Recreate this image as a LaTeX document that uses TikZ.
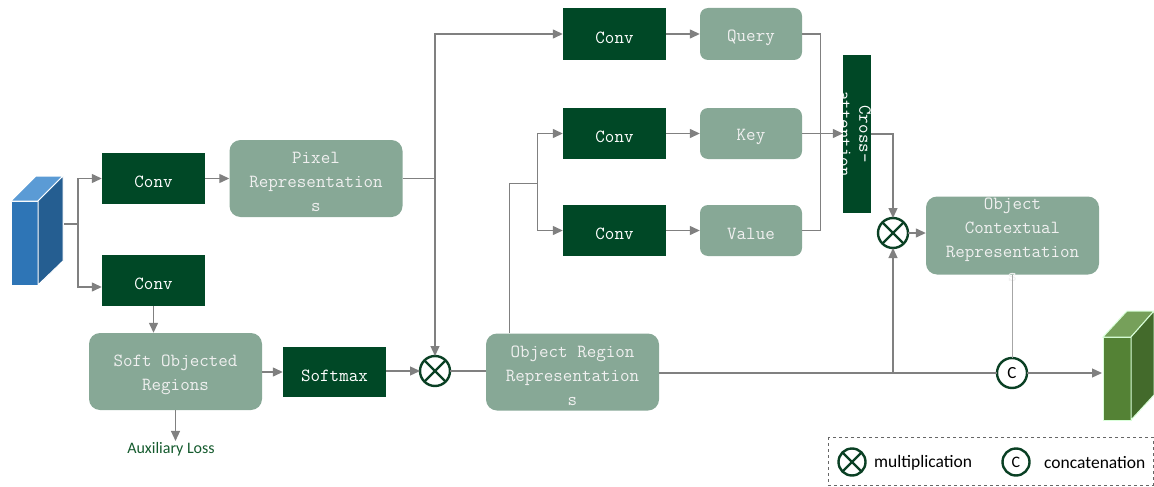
\documentclass[tikz,border=0pt]{standalone}
\usepackage{fontspec}
\setmainfont{Liberation Serif}
\newfontfamily\calfont{Carlito}
\newcommand\codefont{\ttfamily}
\newcommand\mystrut{\rule{0pt}{19pt}}
\usetikzlibrary{arrows.meta,calc}
\definecolor{dkgreen}{RGB}{0,72,38}
\definecolor{ltgreen}{RGB}{135,168,150}
\definecolor{arrgray}{RGB}{128,128,128}
\definecolor{opgreen}{RGB}{10,64,36}
\definecolor{auxgreen}{RGB}{20,90,45}
\definecolor{bluefront}{RGB}{46,117,182}
\definecolor{blueside}{RGB}{37,94,145}
\definecolor{bluetop}{RGB}{91,155,213}
\definecolor{grfront}{RGB}{84,130,53}
\definecolor{grside}{RGB}{67,106,43}
\definecolor{grtop}{RGB}{118,160,90}
\begin{document}
\begin{tikzpicture}[x=1pt,y=-1pt,
  dk/.style={fill=dkgreen, text=white, minimum width=103pt, minimum height=51pt, inner sep=0pt,
    font=\codefont\fontsize{18.5}{24}\selectfont, execute at begin node={\mystrut}},
  lt/.style={fill=ltgreen, rounded corners=11pt, text=white!94!black, minimum width=173pt, minimum height=77pt,
    inner sep=0pt, align=center, font=\codefont\fontsize{18.5}{24}\selectfont},
  sm/.style={fill=ltgreen, rounded corners=8pt, text=white!94!black, minimum width=102pt, minimum height=51pt,
    inner sep=0pt, font=\codefont\fontsize{18.5}{24}\selectfont, execute at begin node={\mystrut}},
  ln/.style={draw=arrgray, line width=1.3pt},
  arr/.style={ln, -{Triangle[length=10pt,width=9pt]}},
  op/.style={circle, draw=opgreen, line width=2.4pt, minimum size=30pt, inner sep=0pt, outer sep=0pt, fill=white},
  lg/.style={font=\calfont\fontsize{17.5}{18}\selectfont, anchor=west, inner sep=0pt}
]
\useasboundingbox (0,0) rectangle (1154,487);

% blue input cuboid
\fill[bluefront, draw=white, line width=1pt] (11,201) rectangle (38,285);
\fill[bluetop, draw=white, line width=1pt] (11,201) -- (38,201) -- (63,176) -- (36,176) -- cycle;
\fill[blueside, draw=white, line width=1pt] (38,201) -- (63,176) -- (63,261) -- (38,285) -- cycle;
\coordinate (in) at (64,224);

% green output cuboid
\fill[grfront, draw=white!85!green, line width=1pt] (1103,337) rectangle (1131,420);
\fill[grtop, draw=white!85!green, line width=1pt] (1103,337) -- (1131,337) -- (1154,311) -- (1127,311) -- cycle;
\fill[grside, draw=white!85!green, line width=1pt] (1131,337) -- (1154,311) -- (1154,395) -- (1131,420) -- cycle;
\coordinate (out) at (1102,373);

% nodes
\node[dk] (c1) at (153.5,178.5) {Conv};
\node[dk] (c2) at (153.5,280.5) {Conv};
\node[lt] (pix) at (316,178.5) {\mystrut Pixel\\Representation\\s};
\node[lt] (sor) at (175.5,371.5) {\mystrut Soft Objected\\Regions};
\node[dk, minimum height=50pt] (smx) at (334.5,372) {Softmax};
\node[op] (m1) at (435,371) {};
\draw[opgreen, line width=2.4pt] (m1.north east) -- (m1.south west) (m1.north west) -- (m1.south east);
\node[lt] (orr) at (572.5,372) {\mystrut Object Region\\Representation\\s};

\node[dk, minimum height=52pt] (ct) at (614.5,34) {Conv};
\node[dk] (cm) at (614.5,133.5) {Conv};
\node[dk] (cb) at (614.5,230.5) {Conv};
\node[sm, minimum height=52pt] (q) at (751,34) {Query};
\node[sm] (k) at (751,133.5) {Key};
\node[sm] (v) at (751,230.5) {Value};

\node[fill=dkgreen, minimum width=28pt, minimum height=158pt, inner sep=0pt] (ca) at (857,134) {};
\node[rotate=-90, text=white, align=center, inner sep=0pt,
  font=\codefont\fontsize{18.5}{20}\selectfont] (catext) at (855,134) {Cross—\\attention};

\node[op] (m2) at (893,233) {};
\draw[opgreen, line width=2.4pt] (m2.north east) -- (m2.south west) (m2.north west) -- (m2.south east);
\node[lt, minimum height=78pt] (ocr) at (1012.5,235.5) {};
\node[lt, fill=none, minimum height=0pt, minimum width=0pt] (ocrtext) at (1012.5,240) {Object\\Contextual\\Representation\\s};
\node[op, font=\calfont\fontsize{17}{18}\selectfont] (cc) at (1012,373) {C};

\node[font=\calfont\fontsize{16}{16}\selectfont, text=auxgreen, inner sep=1pt] (aux) at (171,449) {Auxiliary Loss};

% connectors
\draw[ln] (in) -- (78,224) coordinate (fork);
\draw[arr] (fork) |- (c1.west);
\draw[arr] (fork) |- ($(c2.west)+(0,6.5)$);
\draw[arr] (c1) -- (pix);
\draw[arr] (c2.south) -- (sor.north -| c2.south);
\draw[arr] (sor.east |- smx.west) -- (smx.west);
\draw[arr] (sor.south) -- (sor.south |- aux.north);
\draw[arr] (smx.east |- m1.west) -- (m1.west);
\draw[ln] (m1.east) -- (orr.west |- m1.east);

\draw[ln] (pix.east) -- (pix.east -| m1.north) coordinate (pj);
\draw[arr] (pj) |- (ct.west);
\draw[arr] (pj) -- (m1.north);

\draw[ln] ($(orr.north west)+(24,0)$) -- ++(0,-150) -- ++(28,0) coordinate (oj);
\draw[arr] (oj) |- (cm.west);
\draw[arr] (oj) |- (cb.west);

\draw[arr] (ct) -- (q);
\draw[arr] (cm) -- (k);
\draw[arr] (cb) -- (v);

\draw[ln] (q.east) -- ++(18,0) |- (v.east);
\draw[arr] (k.east) -- (ca.west |- k.east);
\draw[arr] (ca.east) -| (m2.north);
\draw[arr] (m2.east) -- (ocr.west |- m2.east);

\draw[ln] (orr.east |- cc.west) -- (cc.west);
\draw[arr] (m2 |- cc.west) -- (m2.south);
\draw[arr] (cc.east) -- (out);
\draw[draw=arrgray!70, line width=1pt] (ocr.south -| cc.north) -- (cc.north);

% legend
\draw[arrgray!80!black, dashed, line width=1pt] (828,437) rectangle (1153,485);
\node[op, minimum size=27pt] (lm) at (852,462) {};
\draw[opgreen, line width=2.4pt] (lm.north east) -- (lm.south west) (lm.north west) -- (lm.south east);
\node[lg] (lmt) at (874,463) {multiplication};
\node[op, minimum size=27pt, font=\calfont\fontsize{16}{18}\selectfont] (lc) at (1016,462) {C};
\node[lg] (lct) at (1044,463) {concatenation};
\end{tikzpicture}
\end{document}
